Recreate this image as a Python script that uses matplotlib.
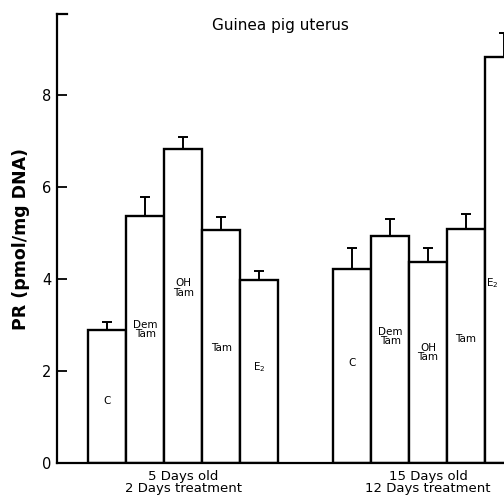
import matplotlib.pyplot as plt

plt.rcParams['font.family'] = ['DejaVu Sans']

# values (pmol/mg DNA)
categories = ["C", "Dem\nTam", "OH\nTam", "Tam", "E$_2$"]
young_means = [2.89, 5.37, 6.83, 5.07, 3.98]
young_errors = [0.18, 0.41, 0.26, 0.28, 0.19]
old_means = [4.22, 4.93, 4.37, 5.09, 8.83]
old_errors = [0.45, 0.37, 0.30, 0.32, 0.52]
young_label_y = [1.35, 2.9, 3.8, 2.5, 2.08]
old_label_y = [2.17, 2.75, 2.4, 2.7, 3.9]
group_labels = ["5 Days old\n2 Days treatment", "15 Days old\n12 Days treatment"]

fig = plt.figure(figsize=(5.04, 4.98), dpi=100)
ax = fig.add_axes([57 / 504, 1 - 463 / 498, 1 - 57 / 504, (463 - 14) / 498])

young_x = [i for i in range(len(categories))]
old_x = [i + 6.45 for i in range(len(categories))]

for xs, means, errs, label_y in [
    (young_x, young_means, young_errors, young_label_y),
    (old_x, old_means, old_errors, old_label_y),
]:
    ax.bar(xs, means, width=1.0, color="white", edgecolor="black",
           linewidth=1.7, zorder=2)
    ax.errorbar(xs, means, yerr=[[0] * len(errs), errs], fmt="none",
                ecolor="black", elinewidth=1.4, capsize=3.8, capthick=1.4,
                zorder=3)
    for i, (x, name, y) in enumerate(zip(xs, categories, label_y)):
        # the last bar is cut by the frame edge, so its label sits left of centre
        if xs is old_x and i == len(xs) - 1:
            x = x - 0.3
        ax.text(x, y, name, ha="center", va="center", fontsize=7.5,
                linespacing=0.95, zorder=4)

ax.set_xlim(-1.32, 10.45)
ax.set_ylim(0, 9.76)
ax.set_yticks([0, 2, 4, 6, 8])
ax.set_xticks([])
ax.tick_params(axis="y", direction="in", length=7, width=1.3, labelsize=10.5,
               pad=4)
for side in ["top", "right"]:
    ax.spines[side].set_visible(False)
ax.spines["left"].set_linewidth(1.6)
ax.spines["bottom"].set_linewidth(1.6)
ax.plot([0, 0.022], [1, 1], transform=ax.transAxes, color="black",
        linewidth=1.6, clip_on=False)

ax.set_ylabel("PR (pmol/mg DNA)", fontsize=12.5, fontweight="bold", labelpad=9)
ax.text(0.5, 9.52, "Guinea pig uterus", transform=ax.get_yaxis_transform(),
        ha="center", va="center", fontsize=11)

for xs, text in zip([young_x, old_x], group_labels):
    ax.text(sum(xs) / len(xs), -0.15, text, ha="center", va="top",
            fontsize=9.5, linespacing=0.9)

fig.savefig("out.png", dpi=100)
